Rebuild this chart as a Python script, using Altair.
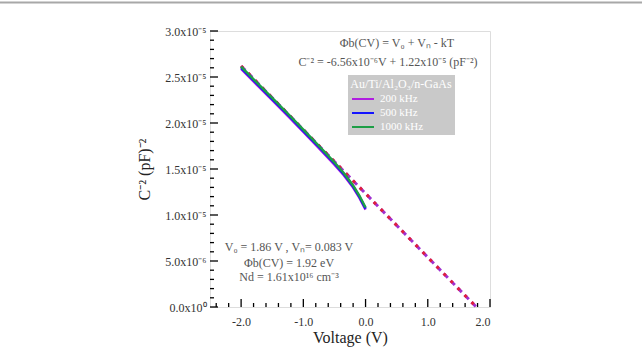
import altair as alt
import pandas as pd

# ---- data ----
voltage = [-2.0, -1.75, -1.5, -1.25, -1.0, -0.75, -0.5, -0.35, -0.2, -0.1, 0.0]
c2_200 = [2.588e-5, 2.418e-5, 2.248e-5, 2.078e-5, 1.903e-5, 1.728e-5, 1.548e-5, 1.433e-5, 1.298e-5, 1.188e-5, 1.058e-5]
c2_500 = [2.600e-5, 2.430e-5, 2.260e-5, 2.090e-5, 1.915e-5, 1.740e-5, 1.560e-5, 1.445e-5, 1.310e-5, 1.200e-5, 1.070e-5]
c2_1000 = [2.612e-5, 2.442e-5, 2.272e-5, 2.102e-5, 1.927e-5, 1.752e-5, 1.572e-5, 1.457e-5, 1.322e-5, 1.212e-5, 1.082e-5]
series_names = ["200 kHz", "500 kHz", "1000 kHz"]
series_colors = ["#b01ee0", "#1414ff", "#1e9e46"]

fit_v = [-2.0, 1.78]
fit_c = [2.62e-5, 0.0]

x_major = [-2.0, -1.0, 0.0, 1.0, 2.0]
x_major_labels = ["-2.0", "-1.0", "0.0", "1.0", "2.0"]
x_minor = [-2.4, -2.2, -1.8, -1.6, -1.4, -1.2, -0.8, -0.6, -0.4, -0.2,
           0.2, 0.4, 0.6, 0.8, 1.2, 1.4, 1.6, 1.8]
y_major = [0.0, 5e-6, 1e-5, 1.5e-5, 2e-5, 2.5e-5, 3e-5]
y_major_labels = ["0.0x10⁰", "5.0x10⁻⁶", "1.0x10⁻⁵", "1.5x10⁻⁵", "2.0x10⁻⁵", "2.5x10⁻⁵", "3.0x10⁻⁵"]
y_minor = [1e-6, 2e-6, 3e-6, 4e-6, 6e-6, 7e-6, 8e-6, 9e-6, 1.1e-5, 1.2e-5, 1.3e-5, 1.4e-5,
           1.6e-5, 1.7e-5, 1.8e-5, 1.9e-5, 2.1e-5, 2.2e-5, 2.3e-5, 2.4e-5,
           2.6e-5, 2.7e-5, 2.8e-5, 2.9e-5]

FONT = "Liberation Serif"
W, H = 280, 276

rows = []
for name, vals in zip(series_names, [c2_200, c2_500, c2_1000]):
    for v, c in zip(voltage, vals):
        rows.append({"V": v, "C": c, "series": name})
df = pd.DataFrame(rows)
fit_df = pd.DataFrame({"V": fit_v, "C": fit_c})


def build_expr(values, labels, tol):
    expr = "''"
    for v, l in reversed(list(zip(values, labels))):
        expr = f"abs(datum.value - ({v})) < {tol} ? '{l}' : " + expr
    return expr


xscale = alt.Scale(domain=[-2.5, 2.0], nice=False, zero=False)
yscale = alt.Scale(domain=[0, 3e-5], nice=False)

x_enc = alt.X("V:Q", scale=xscale, axis=alt.Axis(
    values=x_major, labelExpr=build_expr(x_major, x_major_labels, 0.01),
    ticks=False, domain=False, grid=False, labelPadding=9,
    labelFont=FONT, labelFontSize=12, labelColor="#333",
    title="Voltage (V)", titleFont=FONT, titleFontSize=16, titleFontWeight="normal",
    titleColor="#222", titlePadding=2))
y_enc = alt.Y("C:Q", scale=yscale, axis=alt.Axis(
    values=y_major, labelExpr=build_expr(y_major, y_major_labels, 1e-7),
    ticks=False, domain=False, grid=False, labelPadding=4,
    labelFont=FONT, labelFontSize=12, labelColor="#333",
    title="C⁻² (pF)⁻²", titleFont=FONT, titleFontSize=16, titleFontWeight="normal",
    titleColor="#222", titlePadding=12))

# dashed fit line (purple dashes, half-covered in red)
fit_purple = alt.Chart(fit_df).mark_line(color="#a030d0", strokeWidth=3, strokeDash=[6, 4]).encode(
    x=x_enc, y=y_enc)
fit_red = alt.Chart(fit_df).mark_line(color="#e0203c", strokeWidth=3, strokeDash=[3, 7]).encode(
    x="V:Q", y="C:Q")

curves = alt.Chart(df).mark_line(strokeWidth=2.5).encode(
    x="V:Q", y="C:Q",
    color=alt.Color("series:N", scale=alt.Scale(domain=series_names, range=series_colors), legend=None),
    order=alt.Order("V:Q"))

# ticks (inward)
xmaj = alt.Chart(pd.DataFrame({"V": x_major})).mark_rule(color="black", strokeWidth=1.3).encode(
    x="V:Q", y=alt.value(H), y2=alt.value(H - 8))
xmin = alt.Chart(pd.DataFrame({"V": x_minor})).mark_rule(color="black", strokeWidth=1.3).encode(
    x="V:Q", y=alt.value(H), y2=alt.value(H - 4))
ymaj = alt.Chart(pd.DataFrame({"C": y_major})).mark_rule(color="black", strokeWidth=1.3).encode(
    y="C:Q", x=alt.value(0), x2=alt.value(8))
ymin = alt.Chart(pd.DataFrame({"C": y_minor})).mark_rule(color="black", strokeWidth=1.3).encode(
    y="C:Q", x=alt.value(0), x2=alt.value(4))

one = pd.DataFrame({"a": [0]})


def txt(s, x, y, size=12, color="#555", align="center", style="normal"):
    return alt.Chart(one).mark_text(text=s, font=FONT, fontSize=size, color=color, align=align,
                                    baseline="middle", fontStyle=style).encode(
        x=alt.value(x), y=alt.value(y))


texts = [
    txt("Φb(CV) = V₀ + Vₙ - kT", 187, 12),
    txt("C⁻² = -6.56x10⁻⁶V + 1.22x10⁻⁵ (pF⁻²)", 178, 31),
    txt("V₀ = 1.86 V , Vₙ= 0.083 V", 79, 216),
    txt("Φb(CV) = 1.92 eV", 79, 232),
    txt("Nd = 1.61x10¹⁶ cm⁻³", 79, 246),
]

# manual legend
legend_layers = [
    alt.Chart(one).mark_rect(color="#c9c9c9").encode(
        x=alt.value(138), x2=alt.value(245), y=alt.value(44), y2=alt.value(104)),
    txt("Au/Ti/Al₂O₃/n-GaAs", 191, 53, size=12, color="white"),
]
for i, (name, col) in enumerate(zip(series_names, series_colors)):
    yy = 68 + 14 * i
    legend_layers.append(alt.Chart(one).mark_rule(color=col, strokeWidth=2).encode(
        x=alt.value(142), x2=alt.value(164), y=alt.value(yy)))
    legend_layers.append(txt(name, 170, yy, size=11, color="white", align="left"))

top_line = alt.Chart(one).mark_rule(color="#a8a8a8", strokeWidth=2).encode(
    x=alt.value(-210), x2=alt.value(432), y=alt.value(-28.5))

chart = alt.layer(
    fit_purple, fit_red, curves, xmaj, xmin, ymaj, ymin, *texts, *legend_layers, top_line
).properties(
    width=W, height=H,
    autosize=alt.AutoSizeParams(type="none"),
    padding={"left": 210, "top": 31, "right": 152, "bottom": 43},
).configure_view(stroke="black", strokeWidth=1.5).configure(background="white")

chart.save("out.html", embed_options={"renderer": "svg", "actions": False})
